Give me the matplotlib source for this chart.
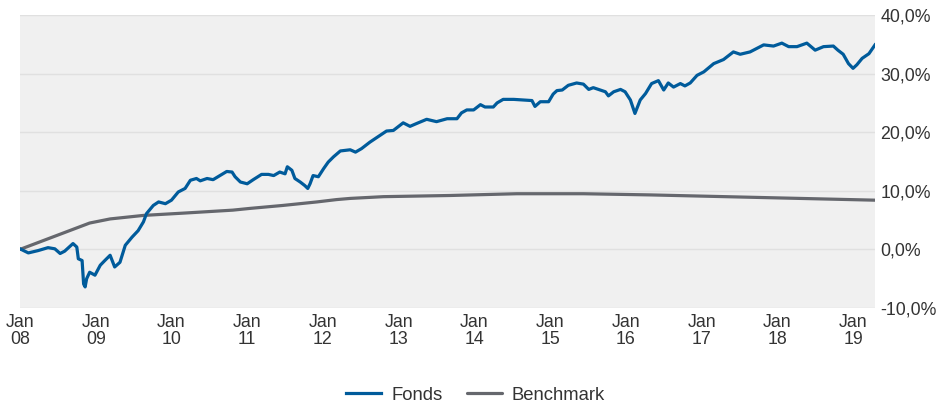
import matplotlib
matplotlib.use("Agg")
import matplotlib.pyplot as plt
import numpy as np

plt.rcParams['font.family'] = ['Liberation Sans', 'DejaVu Sans']

# Fonds (decimal year, % performance)
fonds_t = [2008.00, 2008.11, 2008.24, 2008.37, 2008.46, 2008.53, 2008.59, 2008.70, 2008.75, 2008.77,
           2008.82, 2008.84, 2008.86, 2008.88, 2008.92, 2008.99, 2009.06, 2009.12, 2009.19, 2009.25,
           2009.32, 2009.39, 2009.48, 2009.56, 2009.63, 2009.67, 2009.76, 2009.83, 2009.92, 2010.00,
           2010.09, 2010.18, 2010.25, 2010.33, 2010.38, 2010.47, 2010.55, 2010.64, 2010.73, 2010.80,
           2010.84, 2010.91, 2011.00, 2011.08, 2011.19, 2011.28, 2011.35, 2011.43, 2011.50, 2011.53,
           2011.59, 2011.63, 2011.70, 2011.76, 2011.80, 2011.83, 2011.87, 2011.94, 2012.01, 2012.07,
           2012.14, 2012.23, 2012.36, 2012.43, 2012.51, 2012.62, 2012.76, 2012.84, 2012.93, 2013.06,
           2013.15, 2013.24, 2013.37, 2013.50, 2013.64, 2013.77, 2013.83, 2013.90, 2013.99, 2014.08,
           2014.14, 2014.25, 2014.30, 2014.38, 2014.52, 2014.65, 2014.76, 2014.80, 2014.87, 2014.98,
           2015.04, 2015.09, 2015.16, 2015.24, 2015.35, 2015.44, 2015.51, 2015.57, 2015.66, 2015.73,
           2015.77, 2015.84, 2015.93, 2015.99, 2016.06, 2016.12, 2016.19, 2016.26, 2016.34, 2016.43,
           2016.50, 2016.56, 2016.63, 2016.72, 2016.78, 2016.85, 2016.94, 2017.03, 2017.16, 2017.29,
           2017.42, 2017.51, 2017.64, 2017.82, 2017.95, 2018.06, 2018.15, 2018.26, 2018.39, 2018.50,
           2018.61, 2018.74, 2018.80, 2018.87, 2018.94, 2019.00, 2019.05, 2019.12, 2019.21, 2019.29]
fonds_v = [0.1, -0.6, -0.2, 0.3, 0.1, -0.7, -0.3, 1.0, 0.4, -1.6,
           -1.9, -5.9, -6.4, -5.0, -3.9, -4.4, -2.7, -1.9, -1.0, -3.0,
           -2.2, 0.7, 2.1, 3.2, 4.7, 6.1, 7.5, 8.1, 7.8, 8.4,
           9.8, 10.4, 11.8, 12.1, 11.7, 12.1, 11.9, 12.6, 13.3, 13.2,
           12.4, 11.5, 11.2, 11.9, 12.8, 12.8, 12.6, 13.2, 12.9, 14.1,
           13.5, 12.1, 11.5, 10.9, 10.4, 11.2, 12.6, 12.4, 13.8, 14.9,
           15.8, 16.8, 17.0, 16.6, 17.2, 18.3, 19.5, 20.2, 20.3, 21.6,
           21.0, 21.5, 22.2, 21.8, 22.3, 22.3, 23.3, 23.8, 23.8, 24.7,
           24.3, 24.3, 25.0, 25.6, 25.6, 25.5, 25.4, 24.4, 25.2, 25.2,
           26.5, 27.1, 27.2, 28.0, 28.4, 28.2, 27.3, 27.6, 27.2, 26.9,
           26.2, 26.9, 27.3, 26.9, 25.5, 23.2, 25.5, 26.6, 28.3, 28.8,
           27.2, 28.4, 27.7, 28.3, 27.9, 28.4, 29.7, 30.3, 31.7, 32.4,
           33.7, 33.3, 33.7, 34.9, 34.7, 35.2, 34.6, 34.6, 35.2, 34.0,
           34.6, 34.7, 34.0, 33.3, 31.7, 30.9, 31.5, 32.6, 33.4, 34.9]

# Benchmark (decimal year, % performance)
bench_t = [2008.00, 2008.92, 2009.19, 2009.63, 2010.17, 2010.81, 2011.04, 2011.47, 2011.92, 2012.18,
           2012.36, 2012.80, 2013.68, 2014.56, 2015.44, 2016.32, 2016.98, 2018.30, 2019.29]
bench_v = [0.0, 4.5, 5.2, 5.8, 6.2, 6.7, 7.0, 7.5, 8.1, 8.5,
           8.7, 9.0, 9.2, 9.5, 9.5, 9.3, 9.1, 8.7, 8.4]

years = list(range(2008, 2020))
xlabels = ["Jan\n%02d" % (y % 100) for y in years]
yticks = [-10, 0, 10, 20, 30, 40]
ylabels = ["-10,0%", "0,0%", "10,0%", "20,0%", "30,0%", "40,0%"]

fig = plt.figure(figsize=(9.39, 4.03), dpi=100)
ax = fig.add_axes([20/939, 1 - 308/403, (875-20)/939, (308-15)/403])
ax.set_facecolor('#f0f0f0')

for yv in yticks:
    ax.axhline(yv, color='#e0e0e0', lw=1.0, zorder=1)

ax.plot(bench_t, bench_v, color='#65676d', lw=2.3, label='Benchmark', zorder=3, solid_capstyle='round')
ax.plot(fonds_t, fonds_v, color='#005b9b', lw=2.3, label='Fonds', zorder=4, solid_joinstyle='round')

ax.set_xlim(2008.0, 2019.29)
ax.set_ylim(-10, 40)
ax.set_xticks(years)
ax.set_xticklabels(xlabels, linespacing=1.05)
ax.set_yticks(yticks)
ax.set_yticklabels(ylabels)
ax.yaxis.tick_right()
ax.tick_params(axis='both', length=0, labelsize=12.8, colors='#333333')
ax.tick_params(axis='y', pad=4)
ax.tick_params(axis='x', pad=4)
for s in ax.spines.values():
    s.set_visible(False)

h, l = ax.get_legend_handles_labels()
leg = fig.legend([h[1], h[0]], [l[1], l[0]], loc='center', bbox_to_anchor=(0.5064, 1 - 395/403),
                 ncol=2, frameon=False, fontsize=13.3, handlelength=1.9, columnspacing=1.3,
                 handletextpad=0.55, borderpad=0.2)
for t in leg.get_texts():
    t.set_color('#333333')

fig.savefig('out.png', dpi=100)
